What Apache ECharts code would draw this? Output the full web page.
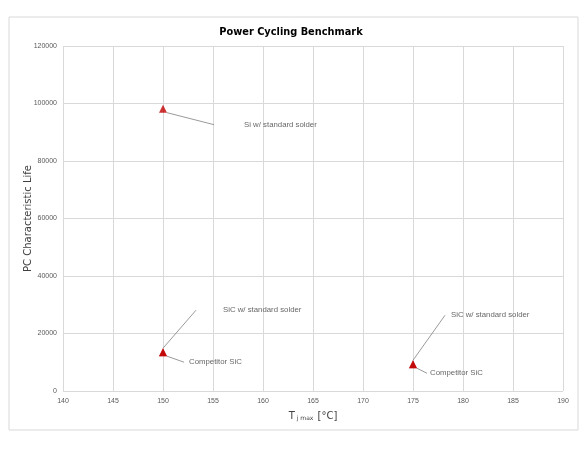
<!DOCTYPE html>
<html>
<head>
<meta charset="utf-8">
<script src="https://cdn.jsdelivr.net/npm/echarts@6/dist/echarts.min.js"></script>
<style>
  html, body { margin: 0; padding: 0; background: #fff; }
  #chart { width: 582px; height: 450px; }
</style>
</head>
<body>
<div id="chart"></div>
<script>
// data
const siTj = [150];
const siLife = [98200];
const sicTj = [150, 175];
const sicLife = [13500, 9300];
const compTj = [150, 175];
const compLife = [13500, 9300];

const xTicks = [140, 190, 5];      // min, max, step
const yTicks = [0, 120000, 20000];

// where each label sits relative to its point (pixels), and the gap before the text
const siLayout = [{ dx: 47, dy: 16, gap: 30 }];
const sicLayout = [{ dx: 29, dy: -42, gap: 27 }, { dx: 28, dy: -49, gap: 6 }];
const compLayout = [{ dx: 17, dy: 10, gap: 5 }, { dx: 10, dy: 9, gap: 3 }];

const chart = echarts.init(document.getElementById('chart'), null, { renderer: 'canvas' });

const labelFont = { fontFamily: 'Liberation Sans', fontSize: 7.8, color: '#404040' };

function makeSeries(name, tj, life, layout) {
    return {
        type: 'scatter',
        name: name,
        symbol: 'triangle',
        symbolSize: 8,
        itemStyle: { color: '#c00000' },
        data: tj.map((x, i) => ({
            value: [x, life[i]],
            label: {
                // empty spacer so the leader line stops short of the text
                formatter: '{g|}{t|' + name + '}',
                rich: { g: { width: layout[i].gap }, t: labelFont }
            }
        })),
        label: {
            show: true,
            position: 'right',
            distance: 0
        },
        labelLine: {
            show: true,
            lineStyle: { color: '#808080', width: 0.8 }
        },
        labelLayout: p => ({ dx: layout[p.dataIndex].dx, dy: layout[p.dataIndex].dy }),
        emphasis: { disabled: true }
    };
}

chart.setOption({
    animation: false,
    title: {
        text: 'Power Cycling Benchmark',
        left: 'center',
        top: 22,
        textStyle: { fontFamily: 'DejaVu Sans', fontSize: 9.8, fontWeight: 'bold', color: '#000' }
    },
    graphic: [{
        type: 'rect',
        shape: { x: 9, y: 17, width: 569, height: 413 },
        style: { fill: 'none', stroke: '#d9d9d9', lineWidth: 1 },
        silent: true
    }],
    grid: { left: 63, right: 19, top: 46, bottom: 59 },
    xAxis: {
        type: 'value',
        min: xTicks[0],
        max: xTicks[1],
        interval: xTicks[2],
        name: '{t|T}{s|j max}{t| [°C]}',
        nameLocation: 'middle',
        nameGap: 16,
        nameMoveOverlap: false,
        nameTextStyle: {
            rich: {
                t: { fontFamily: 'DejaVu Sans', fontSize: 10, color: '#404040', lineHeight: 14, verticalAlign: 'bottom' },
                s: { fontFamily: 'DejaVu Sans', fontSize: 6, color: '#404040', lineHeight: 8, verticalAlign: 'bottom', padding: [0, 1, 0, 2] }
            }
        },
        axisLine: { show: false },
        axisTick: { show: false },
        axisLabel: { fontFamily: 'Liberation Sans', fontSize: 7, color: '#595959', margin: 7 },
        splitLine: { show: true, lineStyle: { color: '#d9d9d9', width: 1 } }
    },
    yAxis: {
        type: 'value',
        min: yTicks[0],
        max: yTicks[1],
        interval: yTicks[2],
        name: 'PC Characteristic Life',
        nameLocation: 'middle',
        nameGap: 30,
        nameMoveOverlap: false,
        nameTextStyle: { fontFamily: 'DejaVu Sans', fontSize: 10, color: '#404040' },
        axisLine: { show: false },
        axisTick: { show: false },
        axisLabel: { fontFamily: 'Liberation Sans', fontSize: 7, color: '#595959', margin: 6, formatter: v => String(v) },
        splitLine: { show: true, lineStyle: { color: '#d9d9d9', width: 1 } }
    },
    series: [
        makeSeries('Si w/ standard solder', siTj, siLife, siLayout),
        makeSeries('SiC w/ standard solder', sicTj, sicLife, sicLayout),
        makeSeries('Competitor SiC', compTj, compLife, compLayout)
    ]
});
</script>
</body>
</html>
